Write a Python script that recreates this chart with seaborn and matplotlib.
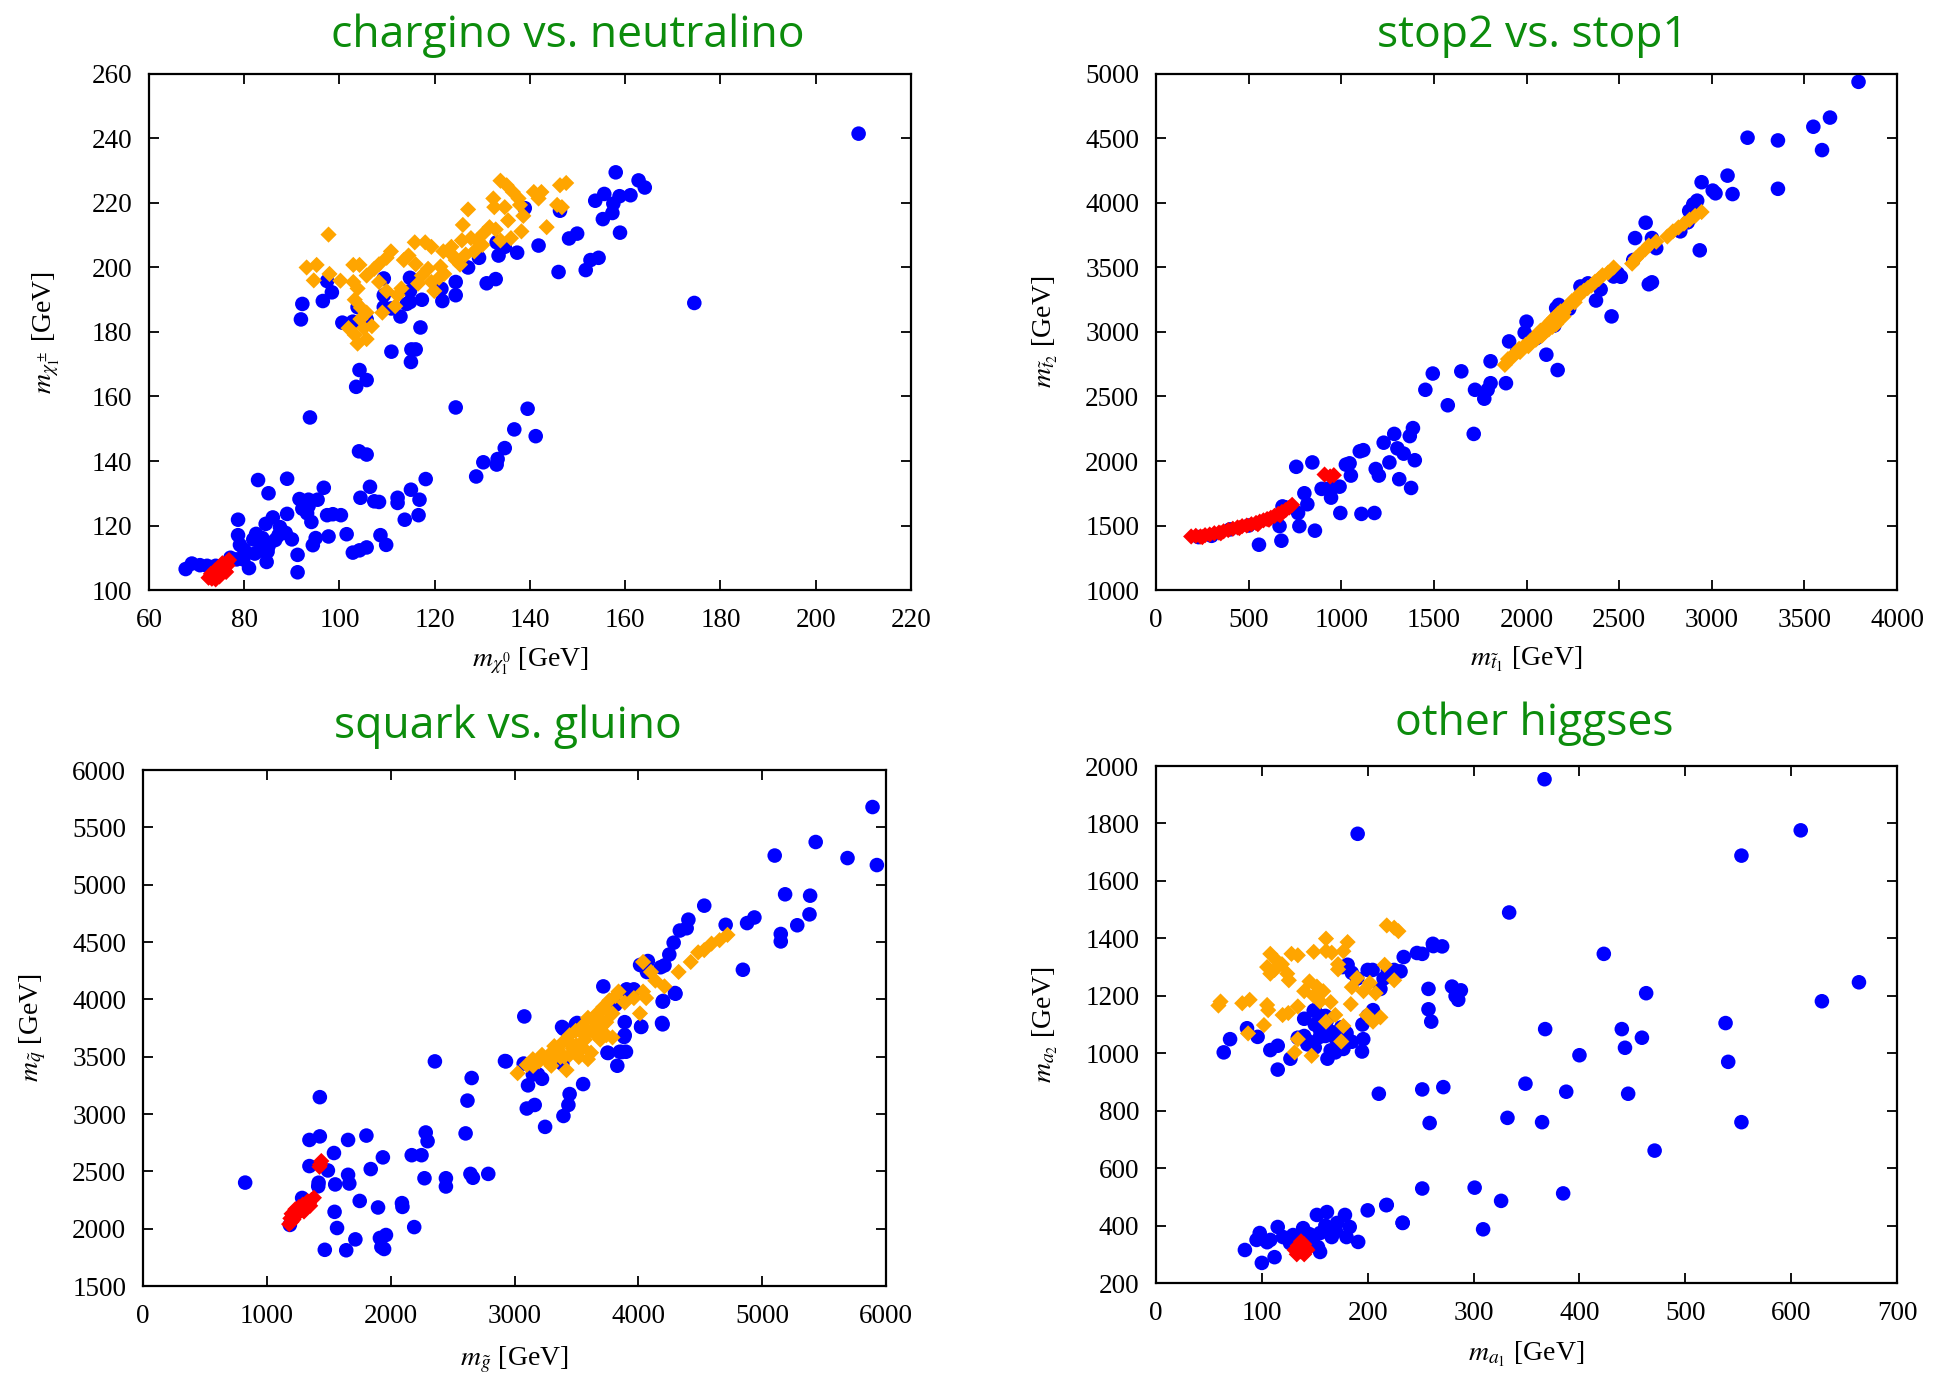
import numpy as np
import pandas as pd
import matplotlib
matplotlib.use("Agg")
import matplotlib.pyplot as plt
import seaborn as sns

# ---------------------------------------------------------------- data
# chargino vs. neutralino  (m_chi1^0, m_chi1^+-)
neut_blue = [
    (209, 241.5), (174.5, 189), (158, 229.5), (162.8, 227), (164.1, 224.8), (161.1, 222.4),
    (158.8, 222.1), (157.5, 219.8), (155.6, 222.8), (153.7, 220.7), (155.3, 215), (157.3, 216.9),
    (158.9, 210.8), (146.3, 217.6), (138.9, 218.4), (149.9, 210.5), (148.2, 209), (154.4, 203),
    (152.7, 202.3), (151.7, 199.2), (146, 198.6), (141.8, 206.8), (137.3, 204.6), (133.4, 203.7),
    (133, 207.8), (134.7, 206.4), (129.3, 203), (132.8, 196.4), (130.9, 195.1), (127, 200),
    (124.4, 195.5), (124.4, 191.4), (121.6, 189.6), (121.4, 193.4), (117.3, 190), (117, 181.4),
    (114.8, 196.8), (114.8, 192.7), (114.8, 189.3), (112.8, 184.8), (114.1, 188.7), (109.3, 196.6),
    (109.3, 191.4), (109.3, 187.7), (110.9, 187.3), (115.1, 174.6), (116, 174.6), (115, 170.7),
    (110.9, 173.9), (105.7, 183.9), (102.8, 183.2), (100.6, 182.9), (103.8, 187.7), (98.4, 192.3),
    (96.5, 189.6), (97.4, 195.8), (92.2, 188.7), (91.9, 183.9), (104.2, 168.2), (103.5, 163),
    (105.7, 165.1), (93.8, 153.5), (124.4, 156.6), (139.5, 156.2), (141.2, 147.7), (136.7, 149.8),
    (134.7, 144), (133.2, 140.6), (133, 138.9), (130.2, 139.6), (128.7, 135.2), (104.1, 143),
    (105.7, 142), (106.4, 132), (104.4, 128.6), (107.3, 127.5), (108.3, 127.3), (112.2, 128.6),
    (112.2, 127), (115, 131.1), (118.1, 134.4), (116.8, 128), (116.6, 123.2), (113.7, 121.8),
    (108.6, 117), (109.8, 114), (105.7, 113.2), (104.2, 112.3), (102.8, 111.6), (101.5, 117.3),
    (100.3, 123.2), (98.6, 123.5), (97.4, 123.2), (96.7, 131.7), (97.7, 116.6), (95, 116.1),
    (94.4, 113.9), (95.4, 128), (93.5, 126), (93.5, 128), (91.6, 128.2), (92.2, 125.2),
    (94.1, 121.1), (93.2, 123.8), (89, 134.5), (89, 123.6), (90, 115.7), (91.2, 110.9),
    (91.2, 105.5), (85.1, 130), (82.9, 134.1), (88.7, 117.7), (87.2, 117), (86, 122.5),
    (84.5, 120.5), (83.8, 116.1), (82.5, 117.4), (85.1, 113.6), (84.7, 108.7), (84.9, 111.9),
    (83.2, 112.2), (81.9, 115.7), (82.2, 111.3), (81, 106.8), (78.7, 121.8), (78.7, 117),
    (79.1, 114), (80, 112.5), (79.8, 109.5), (78.4, 109.5), (77.1, 110), (67.7, 106.5),
    (69, 108.2), (70.7, 107.7), (72.2, 107.5), (74, 107.5), (75.4, 106.8), (87.5, 119.5),
    (86.5, 115.5),
]
neut_orange = [
    (97.7, 210.2), (93.1, 200), (95.2, 200.8), (94.6, 196), (97.9, 198), (100.2, 195.9),
    (102.9, 200.8), (104.2, 200.8), (102.9, 195.5), (103.8, 193.5), (105.7, 197.5), (107.3, 199.6),
    (108.3, 195.5), (108.3, 201), (109.9, 203), (110.8, 205), (109.9, 192.7), (112.2, 191.4),
    (111.7, 188), (109, 186), (105.7, 186), (103.2, 190), (104.5, 187.5), (101.9, 181.2),
    (103.2, 179.1), (103.8, 176.4), (105.7, 177.8), (105.1, 181.2), (106.8, 181.8), (104.4, 184),
    (113.5, 202.3), (114.5, 203.7), (116, 201), (115.8, 207.8), (118, 207.8), (119.3, 206.4),
    (117.3, 197.5), (118.6, 199.6), (120.9, 196.8), (119.9, 192.7), (119.3, 195.5), (121.2, 200.3),
    (121.8, 205), (123.5, 206.4), (124.4, 202.3), (125.3, 200.9), (123.8, 203.7), (125.9, 213.2),
    (127, 218), (125.7, 208.4), (127.6, 209.1), (128.9, 208.4), (130.2, 210.5), (131.5, 212.5),
    (132.8, 211.8), (132.3, 221.4), (133.8, 226.9), (135.1, 225.5), (136.4, 223.4), (132.5, 218.7),
    (134.7, 218.7), (137.6, 221.4), (135.4, 214.6), (136, 209.1), (137.9, 219.4), (138.6, 216),
    (138.2, 211.2), (140.8, 223.4), (142.4, 223.4), (141.8, 221.4), (143.5, 212.5), (146.3, 225.5),
    (147.6, 226.2), (145.7, 219.4), (146.7, 218.7), (133.8, 208.4), (130, 207), (128.3, 205),
    (126.5, 204), (122, 198), (113, 193.5), (116.5, 195),
]
neut_red = [
    (72.5, 103.8), (73.2, 103.5), (74, 104), (74.8, 104.2), (73.5, 104.8), (74.3, 105.2),
    (75.2, 105), (73.8, 106), (74.6, 106.2), (75.5, 106.5), (74.9, 107.2), (75.8, 107.5),
    (76.3, 108.5), (76.8, 109.3), (75.9, 106), (76.5, 107.6), (73, 105), (75.4, 108.3),
    (74, 103.3), (76.2, 105.6),
]

# stop2 vs. stop1  (m_t1, m_t2)
stop_blue = [
    (3792, 4939), (3638, 4662), (3548, 4591), (3595, 4410), (3193, 4506), (3357, 4485),
    (3357, 4110), (3085, 4212), (3005, 4096), (3020, 4075), (3112, 4069), (2945, 4161),
    (2935, 3633), (2921, 4018), (2878, 3939), (2900, 3990), (2643, 3847), (2586, 3728),
    (2677, 3728), (2660, 3370), (2677, 3385), (2576, 3558), (2459, 3121), (2509, 3428),
    (2492, 3455), (2291, 3353), (2332, 3377), (2375, 3244), (2174, 3210), (2160, 3185),
    (2168, 2705), (2107, 2824), (2000, 3080), (1990, 2995), (1906, 2927), (1889, 2603),
    (1806, 2773), (1806, 2603), (1772, 2483), (1722, 2552), (1790, 2552), (1715, 2210),
    (1648, 2695), (1575, 2432), (1494, 2678), (1454, 2552), (1387, 2255), (1370, 2193),
    (1286, 2210), (1397, 2006), (1377, 1791), (1313, 1859), (1337, 2057), (1303, 2098),
    (1229, 2142), (1260, 1989), (1186, 1938), (1203, 1887), (1119, 2084), (1100, 2075),
    (1045, 1982), (1025, 1972), (1052, 1887), (991, 1801), (945, 1716), (925, 1784),
    (952, 1790), (894, 1784), (995, 1597), (1109, 1590), (1179, 1597), (801, 1750),
    (817, 1665), (844, 1989), (757, 1955), (767, 1597), (774, 1495), (858, 1460),
    (667, 1495), (677, 1382), (556, 1351), (683, 1648), (1950, 2850), (2050, 2950),
    (2150, 3050), (2230, 3180), (2400, 3330), (2470, 3430), (2700, 3650), (2830, 3780),
    (2870, 3850), (230, 1410), (300, 1420), (400, 1470), (500, 1500), (700, 1640),
]
stop_orange = [
    (1883, 2745), (1900, 2790), (1920, 2800), (1935, 2830), (1950, 2850), (1965, 2845),
    (1980, 2880), (1995, 2900), (2010, 2890), (2020, 2930), (2035, 2950), (2050, 2940),
    (2060, 2985), (2075, 3010), (2085, 2975), (2095, 3030), (2110, 3050), (2120, 3020),
    (2135, 3090), (2150, 3110), (2160, 3060), (2170, 3140), (2185, 3160), (2200, 3120),
    (2215, 3190), (2230, 3210), (2245, 3240), (2260, 3230), (2275, 3270), (2290, 3300),
    (2310, 3320), (2330, 3340), (2350, 3360), (2370, 3390), (2390, 3410), (2410, 3440),
    (2440, 3460), (2470, 3500), (2570, 3530), (2590, 3570), (2610, 3600), (2640, 3640),
    (2660, 3670), (2700, 3700), (2760, 3740), (2790, 3780), (2820, 3810), (2850, 3840),
    (2880, 3870), (2910, 3900), (2945, 3930), (2100, 3000), (2140, 3040), (2200, 3150),
    (2180, 3100), (1960, 2870), (2080, 2970),
]
stop_red = [
    (190, 1415), (215, 1420), (240, 1415), (265, 1425), (290, 1430), (315, 1440),
    (340, 1445), (365, 1455), (390, 1465), (415, 1475), (440, 1485), (465, 1495),
    (490, 1500), (515, 1510), (540, 1520), (560, 1530), (580, 1540), (600, 1550),
    (620, 1560), (640, 1575), (660, 1590), (680, 1605), (700, 1620), (720, 1640),
    (735, 1660), (250, 1410), (350, 1440), (450, 1480), (550, 1510), (610, 1545),
    (670, 1580), (910, 1895), (960, 1890), (940, 1880),
]

# squark vs. gluino  (m_gluino, m_squark)
squark_blue = [
    (5891, 5677), (5926, 5171), (5689, 5232), (5432, 5372), (5101, 5254), (5185, 4916),
    (5387, 4904), (5382, 4741), (5283, 4646), (5150, 4570), (5150, 4505), (4937, 4714),
    (4878, 4665), (4844, 4258), (4705, 4650), (4532, 4817), (4404, 4695), (4390, 4620),
    (4335, 4600), (4285, 4494), (4250, 4391), (4211, 4296), (4180, 4280), (4077, 4334),
    (4028, 4296), (4300, 4049), (4196, 3980), (4196, 3782), (4023, 3763), (3964, 4087),
    (3905, 4087), (3890, 3801), (3890, 3687), (3900, 3543), (3850, 3543), (3830, 3421),
    (3751, 3535), (3717, 4113), (3815, 3953), (3554, 3261), (3445, 3174), (3435, 3079),
    (3395, 2983), (3395, 3744), (3494, 3782), (3247, 2888), (3163, 3079), (3099, 3048),
    (3079, 3851), (2931, 3459), (3074, 3440), (3148, 3345), (3190, 3345), (3222, 3307),
    (3109, 3250), (3386, 3440), (2357, 3459), (2654, 3314), (2620, 3117), (2605, 2831),
    (2283, 2839), (2298, 2763), (2170, 2641), (2249, 2641), (2273, 2440), (2091, 2223),
    (2095, 2190), (2190, 2014), (2446, 2440), (2446, 2368), (2644, 2478), (2664, 2444),
    (2788, 2478), (1937, 2622), (1804, 2812), (1656, 2774), (1839, 2520), (1656, 2470),
    (1666, 2394), (1542, 2660), (1428, 2805), (1344, 2774), (1344, 2546), (1428, 3147),
    (1418, 2401), (1415, 2370), (1493, 2508), (1552, 2386), (1547, 2147), (1750, 2242),
    (1898, 2185), (1913, 1919), (1947, 1823), (1925, 1840), (1962, 1945), (1567, 2006),
    (1715, 1907), (1641, 1812), (1468, 1816), (1285, 2268), (1186, 2033), (825, 2402),
    (3908, 4081), (4191, 3794), (4296, 4055), (4200, 3986), (4022, 3759), (3885, 3672),
    (3868, 3541), (3755, 3532), (3384, 3759), (3505, 3794), (2923, 3462), (4014, 4300),
    (4070, 4238), (3930, 4080),
]
squark_orange = [
    (3025, 3356), (3099, 3428), (3148, 3478), (3222, 3516), (3297, 3535), (3321, 3592),
    (3371, 3497), (3395, 3630), (3445, 3687), (3470, 3573), (3494, 3725), (3519, 3497),
    (3544, 3763), (3568, 3649), (3593, 3839), (3618, 3535), (3643, 3744), (3667, 3877),
    (3692, 3649), (3717, 3934), (3741, 3801), (3766, 3991), (3791, 3877), (3815, 4029),
    (3840, 4068), (3791, 3668), (3741, 3687), (3593, 3478), (3420, 3383), (3445, 3516),
    (3297, 3421), (3198, 3459), (3890, 3972), (3964, 4011), (4038, 4068), (4013, 3877),
    (4063, 4011), (4038, 4326), (4102, 4239), (4211, 4113), (4325, 4239), (4423, 4326),
    (4532, 4429), (4591, 4486), (4656, 4516), (4720, 4562), (4483, 4410), (4137, 4163),
    (3250, 3480), (3350, 3560), (3400, 3500), (3500, 3600), (3550, 3700), (3600, 3720),
    (3650, 3800), (3700, 3820), (3750, 3900), (3300, 3470), (3150, 3420), (3450, 3620),
    (3550, 3580), (3650, 3700), (3700, 3760),
]
squark_red = [
    (1180, 2040), (1200, 2060), (1190, 2090), (1215, 2080), (1230, 2110), (1210, 2120),
    (1250, 2130), (1240, 2150), (1265, 2160), (1280, 2170), (1260, 2190), (1300, 2190),
    (1290, 2210), (1320, 2210), (1340, 2220), (1330, 2240), (1360, 2250), (1380, 2270),
    (1230, 2170), (1200, 2130), (1300, 2150), (1350, 2200), (1430, 2560), (1440, 2590),
    (1425, 2540),
]

# other higgses  (m_a1, m_a2)
higgs_blue = [
    (367, 1954), (190.5, 1764), (609, 1776), (553, 1688), (333.6, 1490), (423, 1346),
    (463, 1209), (664, 1247), (629, 1181), (538, 1105), (540.5, 970), (553, 760),
    (471, 661), (440, 1084), (443, 1019), (459, 1054), (446, 859), (400, 993),
    (387.5, 866), (367.6, 1084), (364.7, 760), (349, 894), (332, 775), (384.6, 512),
    (326, 486), (309, 387), (301, 532), (251.5, 529), (233, 410), (217.5, 471),
    (200, 453), (210.5, 859), (251.5, 874), (271.4, 882), (258.5, 757), (257.4, 1224),
    (257.4, 1153), (260, 1110), (279.6, 1232), (285.5, 1186), (288, 1219), (283, 1199),
    (270.3, 1372), (261.5, 1381), (262, 1373), (251.5, 1346), (246.5, 1349), (234, 1335),
    (231, 1285), (219, 1288), (204.6, 1290), (212, 1224), (195.8, 1049), (194.6, 1006),
    (177, 1015), (169.4, 1003), (162, 981), (181, 1308), (149, 1148), (154.8, 1057),
    (143, 1031), (134, 1054), (127, 981), (115, 1026), (108, 1011), (115, 943),
    (96, 1057), (86, 1087), (70, 1049), (64, 1003), (161, 1110), (150, 1100),
    (155, 1080), (160, 1060), (165, 1075), (170, 1050), (175, 1090), (180, 1070),
    (185, 1040), (145, 1040), (140, 1060), (150, 1150), (160, 1130), (195, 1100),
    (200, 1130), (205, 1150), (185, 1280), (190, 1260), (176, 1300), (200, 1290),
    (215, 1260), (225, 1290), (150, 1020), (165, 1010), (155, 1130), (140, 1120),
    (84, 315), (100, 270), (98, 374), (95, 350), (112, 290), (108, 350),
    (115, 395), (120, 360), (129.5, 367), (139, 391), (126.6, 339), (152, 437),
    (161.5, 447), (155, 374), (153, 325), (155, 308), (148, 350), (166, 360),
    (171, 409), (178.5, 437), (183, 395), (180, 360), (191, 343), (218, 472),
    (233, 409), (105, 342), (160, 400), (170, 380), (145, 370), (135, 355),
]
higgs_orange = [
    (59, 1166), (61, 1180), (81.5, 1174), (88.5, 1186), (87, 1069), (102, 1098),
    (105, 1168), (106, 1150), (108, 1346), (105, 1300), (108, 1277), (114, 1323),
    (119, 1310), (124, 1277), (125.5, 1254), (128, 1346), (134, 1341), (119.6, 1133),
    (125, 1140), (134, 1163), (140, 1216), (149, 1353), (160.6, 1356), (160.6, 1399),
    (166, 1350), (181, 1387), (177, 1355), (172, 1292), (172, 1310), (152, 1232),
    (158, 1216), (149, 1200), (165, 1178), (169.4, 1133), (160.6, 1110), (177, 1095),
    (175, 1041), (184, 1171), (190, 1262), (196, 1216), (202, 1245), (207.5, 1209),
    (199, 1133), (205, 1110), (212, 1125), (216, 1308), (225, 1254), (218, 1445),
    (225, 1437), (229, 1425), (134, 1049), (147, 991), (131, 1003), (112, 1290),
    (145, 1250), (155, 1180), (185, 1230),
]
higgs_red = [
    (133, 300), (140, 300), (137, 310), (131, 315), (143, 315), (136, 325),
    (140, 335), (137, 345), (134, 330), (142, 320),
]

titles = ["chargino vs. neutralino", "stop2 vs. stop1", "squark vs. gluino", "other higgses"]
xlabels = [r"$m_{\chi_1^0}$ [GeV]", r"$m_{\tilde{t}_1}$ [GeV]",
           r"$m_{\tilde{g}}$ [GeV]", r"$m_{a_1}$ [GeV]"]
ylabels = [r"$m_{\chi_1^\pm}$ [GeV]", r"$m_{\tilde{t}_2}$ [GeV]",
           r"$m_{\tilde{q}}$ [GeV]", r"$m_{a_2}$ [GeV]"]
xlims = [(60, 220), (0, 4000), (0, 6000), (0, 700)]
ylims = [(100, 260), (1000, 5000), (1500, 6000), (200, 2000)]
xsteps = [20, 500, 1000, 100]
ysteps = [20, 500, 500, 200]

series = [
    (neut_blue, neut_orange, neut_red),
    (stop_blue, stop_orange, stop_red),
    (squark_blue, squark_orange, squark_red),
    (higgs_blue, higgs_orange, higgs_red),
]

# ---------------------------------------------------------------- style
SERIF = ["Liberation Serif", "DejaVu Serif"]
plt.rcParams["font.family"] = SERIF
plt.rcParams["mathtext.fontset"] = "stix"

BLUE, ORANGE, RED = "#0000ff", "#ffa500", "#ff0000"
GREEN = "#0c8c0c"

fig = plt.figure(figsize=(19.35, 13.75), dpi=100)

# axes rectangles [left, bottom, width, height] in figure fraction
rects = [
    [0.0770, 0.5709, 0.3938, 0.3753],
    [0.5974, 0.5709, 0.3830, 0.3753],
    [0.0739, 0.0647, 0.3840, 0.3753],
    [0.5974, 0.0669, 0.3830, 0.3760],
]
title_pos = [(0.2934, 0.9658), (0.7922, 0.9658), (0.2627, 0.4633), (0.7927, 0.4654)]
ylabel_x = [-0.114, -0.130, -0.128, -0.130]
xlabel_y = [-0.107, -0.107, -0.114, -0.110]

for i in range(4):
    ax = fig.add_axes(rects[i])
    blue, orange, red = series[i]
    for pts, col, mk, sz in ((blue, BLUE, "o", 110), (orange, ORANGE, "D", 68), (red, RED, "D", 68)):
        df = pd.DataFrame(pts, columns=["x", "y"])
        sns.scatterplot(data=df, x="x", y="y", ax=ax, color=col, marker=mk, s=sz,
                        linewidth=0, edgecolor="none", legend=False)
    ax.set_xlim(*xlims[i])
    ax.set_ylim(*ylims[i])
    ax.set_xticks(np.arange(xlims[i][0], xlims[i][1] + 1, xsteps[i]))
    ax.set_yticks(np.arange(ylims[i][0], ylims[i][1] + 1, ysteps[i]))
    ax.tick_params(axis="both", which="major", direction="in", length=7, width=1.3,
                   top=True, right=True, labelsize=19.5, colors="black")
    ax.tick_params(axis="x", pad=13)
    ax.tick_params(axis="y", pad=12)
    for lab in ax.get_xticklabels() + ax.get_yticklabels():
        lab.set_family(SERIF)
    for sp in ax.spines.values():
        sp.set_linewidth(1.6)
        sp.set_color("black")
    ax.set_xlabel(xlabels[i], fontsize=20, family=SERIF)
    ax.set_ylabel(ylabels[i], fontsize=20, family=SERIF)
    ax.xaxis.set_label_coords(0.5, xlabel_y[i])
    ax.yaxis.set_label_coords(ylabel_x[i], 0.5)
    fig.text(title_pos[i][0], title_pos[i][1], titles[i], ha="center", va="baseline",
             fontsize=32, color=GREEN, family=["Open Sans", "DejaVu Sans"])

fig.savefig("out.png", dpi=100, facecolor="white")
